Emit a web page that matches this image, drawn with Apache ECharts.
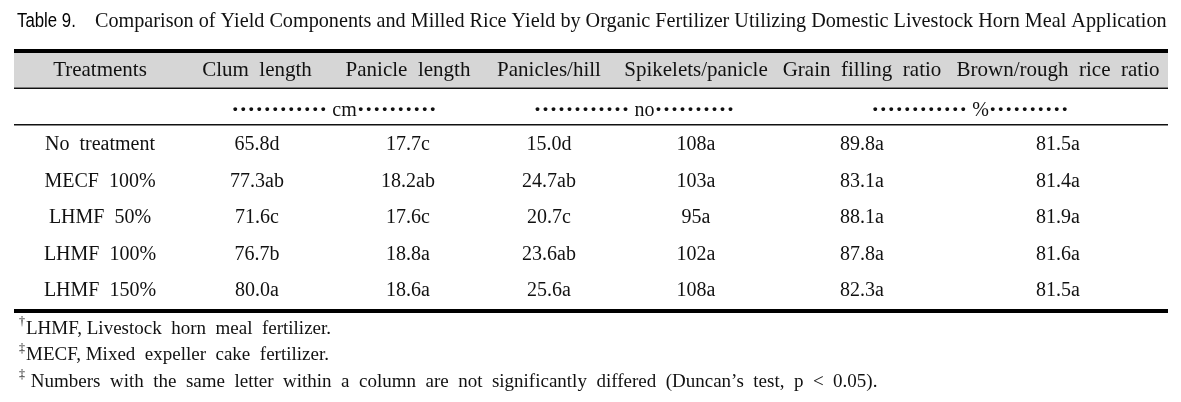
<!DOCTYPE html>
<html>
<head>
<meta charset="utf-8">
<script src="https://cdn.jsdelivr.net/npm/echarts@6/dist/echarts.min.js"></script>
<style>
  html, body { margin: 0; padding: 0; background: #fff; }
  #table { width: 1181px; height: 402px; }
</style>
</head>
<body>
<div id="table"></div>
<script>
// table content
const titleLabel = 'Table 9.'
const titleText = 'Comparison of Yield Components and Milled Rice Yield by Organic Fertilizer Utilizing Domestic Livestock Horn Meal Application'
const columns = ['Treatments', 'Clum  length', 'Panicle  length', 'Panicles/hill', 'Spikelets/panicle', 'Grain  filling  ratio', 'Brown/rough  rice  ratio']
const units = ['cm', 'no', '%']
const treatments = ['No  treatment', 'MECF  100%', 'LHMF  50%', 'LHMF  100%', 'LHMF  150%']
const clumLength = [65.8, 77.3, 71.6, 76.7, 80.0]
const clumLetters = ['d', 'ab', 'c', 'b', 'a']
const panicleLength = [17.7, 18.2, 17.6, 18.8, 18.6]
const panicleLetters = ['c', 'ab', 'c', 'a', 'a']
const paniclesHill = [15.0, 24.7, 20.7, 23.6, 25.6]
const paniclesLetters = ['d', 'ab', 'c', 'ab', 'a']
const spikelets = [108, 103, 95, 102, 108]
const spikeletLetters = ['a', 'a', 'a', 'a', 'a']
const grainFilling = [89.8, 83.1, 88.1, 87.8, 82.3]
const grainLetters = ['a', 'a', 'a', 'a', 'a']
const brownRough = [81.5, 81.4, 81.9, 81.6, 81.5]
const brownLetters = ['a', 'a', 'a', 'a', 'a']
const footnotes = [
  ['\u2020', 'LHMF, Livestock  horn  meal  fertilizer.'],
  ['\u2021', 'MECF, Mixed  expeller  cake  fertilizer.'],
  ['\u2021', ' Numbers  with  the  same  letter  within  a  column  are  not  significantly  differed  (Duncan\u2019s  test,  p  <  0.05).']
]

// layout (pixels)
const colX = [100, 257, 408, 549, 696, 862, 1058]
const unitX = [334, 634, 970]
const left = 14
const right = 1168
const serif = 'Liberation Serif, Times New Roman, serif'
const ink = '#111'

const numCols = [
  [clumLength, clumLetters, 1],
  [panicleLength, panicleLetters, 1],
  [paniclesHill, paniclesLetters, 1],
  [spikelets, spikeletLetters, 0],
  [grainFilling, grainLetters, 1],
  [brownRough, brownLetters, 1]
]

const cells = []
treatments.forEach((t, r) => {
  cells.push({ value: [0, r], text: t })
  numCols.forEach(([vals, letters, digits], c) => {
    cells.push({ value: [c + 1, r], text: vals[r].toFixed(digits) + letters[r] })
  })
})

const chart = echarts.init(document.getElementById('table'))

const graphic = [
  { type: 'text', x: 17, y: 21, scaleX: 0.84, style: { text: titleLabel, font: '20px "Liberation Sans", Arial, sans-serif', fill: '#000', verticalAlign: 'middle' } },
  { type: 'text', x: 95, y: 22, style: { text: titleText, font: '20.2px ' + serif, fill: ink, verticalAlign: 'middle' } },
  { type: 'rect', shape: { x: left, y: 49, width: right - left, height: 4 }, style: { fill: '#000' } },
  { type: 'rect', shape: { x: left, y: 53, width: right - left, height: 34.5 }, style: { fill: '#d6d6d6' } },
  { type: 'rect', shape: { x: left, y: 87.5, width: right - left, height: 1.5 }, style: { fill: ink } },
  { type: 'rect', shape: { x: left, y: 124, width: right - left, height: 1.5 }, style: { fill: ink } },
  { type: 'rect', shape: { x: left, y: 309, width: right - left, height: 4 }, style: { fill: '#000' } }
]
columns.forEach((c, i) => {
  graphic.push({ type: 'text', x: colX[i], y: 70, style: { text: c, font: '21px ' + serif, fill: ink, align: 'center', verticalAlign: 'middle' } })
})
units.forEach((u, i) => {
  graphic.push({
    type: 'text', x: unitX[i], y: 111,
    style: {
      text: '{d|' + '\u00b7'.repeat(12) + '} ' + u + '{d|' + '\u00b7'.repeat(10) + '}',
      font: '20px ' + serif, fill: ink, align: 'center', verticalAlign: 'middle',
      rich: { d: { fontSize: 24, fontWeight: 'bold', fontFamily: 'Liberation Serif', fill: ink } }
    }
  })
})
footnotes.forEach(([mark, txt], i) => {
  const y = 329 + i * 26.5
  graphic.push({ type: 'text', x: 19, y: y - 7, style: { text: mark, font: '12px ' + serif, fill: ink, verticalAlign: 'middle' } })
  graphic.push({ type: 'text', x: 26, y: y, style: { text: txt, font: '19px ' + serif, fill: ink, verticalAlign: 'middle' } })
})

chart.setOption({
  animation: false,
  graphic: graphic,
  grid: { left: 0, right: 0, top: 127, bottom: 93 },
  xAxis: { type: 'value', min: 0, max: 1181, show: false },
  yAxis: { type: 'category', data: treatments, inverse: true, show: false },
  series: [
    {
      type: 'custom',
      data: cells,
      renderItem: function (params, api) {
        const p = api.coord([colX[api.value(0)], api.value(1)])
        return {
          type: 'text',
          x: p[0],
          y: p[1],
          style: {
            text: cells[params.dataIndex].text,
            font: '20px ' + serif,
            fill: ink,
            align: 'center',
            verticalAlign: 'middle'
          }
        }
      }
    }
  ]
})
</script>
</body>
</html>
